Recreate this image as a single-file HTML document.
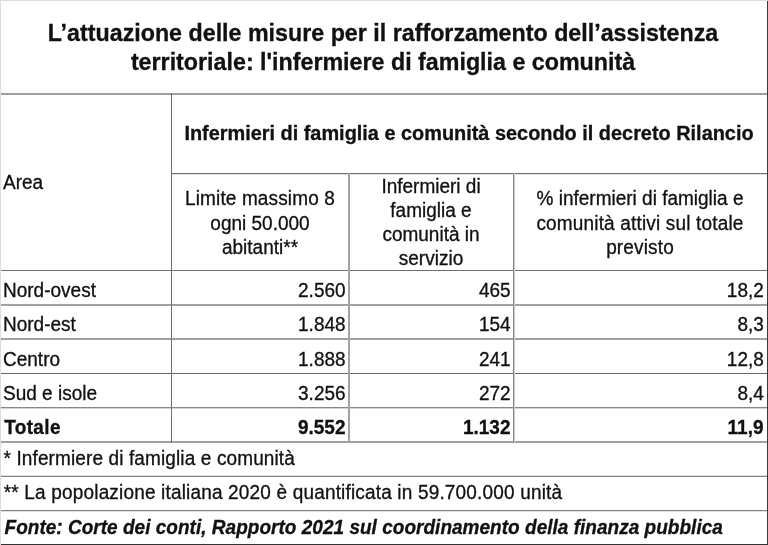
<!DOCTYPE html>
<html><head><meta charset="utf-8">
<style>
html,body{margin:0;padding:0;background:#fff;}
body{width:768px;height:545px;position:relative;overflow:hidden;font-family:"Liberation Sans",sans-serif;color:#111;}
#wrap{position:absolute;left:0;top:0;width:768px;height:545px;filter:grayscale(1);}
.h{position:absolute;height:1px;}
.v{position:absolute;width:1px;}
.t{position:absolute;white-space:nowrap;font-size:19px;line-height:24px;-webkit-text-stroke:0.3px #111;}
</style></head><body><div id="wrap">
<div class="h" style="left:0px;top:0px;width:768px;background:#ddd"></div>
<div class="v" style="left:0px;top:0px;height:545px;background:#ddd"></div>
<div class="v" style="left:767px;top:1px;height:544px;background:#3a3a3a"></div>
<div class="h" style="left:1px;top:544px;width:767px;background:#333"></div>
<div class="h" style="left:1px;top:93px;width:766px;background:#a2a2a2"></div>
<div class="h" style="left:1px;top:94px;width:766px;background:#9c9c9c"></div>
<div class="h" style="left:171px;top:173px;width:596px;background:#6e6e6e"></div>
<div class="h" style="left:171px;top:174px;width:596px;background:#e4e4e4"></div>
<div class="h" style="left:1px;top:270px;width:766px;background:#707070"></div>
<div class="h" style="left:1px;top:304px;width:766px;background:#a2a2a2"></div>
<div class="h" style="left:1px;top:305px;width:766px;background:#a2a2a2"></div>
<div class="h" style="left:1px;top:338px;width:766px;background:#a2a2a2"></div>
<div class="h" style="left:1px;top:339px;width:766px;background:#a2a2a2"></div>
<div class="h" style="left:1px;top:373px;width:766px;background:#666"></div>
<div class="h" style="left:1px;top:407px;width:766px;background:#888"></div>
<div class="h" style="left:1px;top:408px;width:766px;background:#d4d4d4"></div>
<div class="h" style="left:1px;top:441px;width:766px;background:#a2a2a2"></div>
<div class="h" style="left:1px;top:442px;width:766px;background:#a2a2a2"></div>
<div class="h" style="left:1px;top:475px;width:766px;background:#e0e0e0"></div>
<div class="h" style="left:1px;top:476px;width:766px;background:#808080"></div>
<div class="h" style="left:1px;top:510px;width:766px;background:#808080"></div>
<div class="h" style="left:1px;top:511px;width:766px;background:#e4e4e4"></div>
<div class="v" style="left:171px;top:93px;height:350px;background:#707070"></div>
<div class="v" style="left:348px;top:173px;height:270px;background:#a2a2a2"></div>
<div class="v" style="left:349px;top:173px;height:270px;background:#a2a2a2"></div>
<div class="v" style="left:513px;top:173px;height:270px;background:#868686"></div>
<div class="v" style="left:514px;top:173px;height:270px;background:#cccccc"></div>
<div class="t" style="top:19px;line-height:29px;font-size:23.25px;font-weight:bold;left:-1px;width:768px;text-align:center;transform:scaleY(1.05);transform-origin:0 22px">L’attuazione delle misure per il rafforzamento dell’assistenza</div>
<div class="t" style="top:48px;line-height:29px;font-size:23.25px;font-weight:bold;left:-1px;width:768px;text-align:center;transform:scaleY(1.05);transform-origin:0 22px">territoriale: l'infermiere di famiglia e comunità</div>
<div class="t" style="top:121px;line-height:24px;font-size:19.9px;font-weight:bold;left:171px;width:596px;text-align:center;transform:scaleY(1.04);transform-origin:0 19px">Infermieri di famiglia e comunità secondo il decreto Rilancio</div>
<div class="t" style="top:171px;line-height:24px;left:3px;transform:scaleY(1.05);transform-origin:0 18px">Area</div>
<div class="t" style="top:187px;line-height:24px;letter-spacing:0.13px;left:171px;width:178px;text-align:center;transform:scaleY(1.05);transform-origin:0 18px">Limite massimo 8</div>
<div class="t" style="top:212px;line-height:24px;left:171px;width:178px;text-align:center;transform:scaleY(1.05);transform-origin:0 18px">ogni 50.000</div>
<div class="t" style="top:236px;line-height:24px;left:171px;width:178px;text-align:center;transform:scaleY(1.05);transform-origin:0 18px">abitanti**</div>
<div class="t" style="top:175px;line-height:24px;left:349px;width:164px;text-align:center;transform:scaleY(1.05);transform-origin:0 18px">Infermieri di</div>
<div class="t" style="top:199px;line-height:24px;left:349px;width:164px;text-align:center;transform:scaleY(1.05);transform-origin:0 18px">famiglia e</div>
<div class="t" style="top:223px;line-height:24px;left:349px;width:164px;text-align:center;transform:scaleY(1.05);transform-origin:0 18px">comunità in</div>
<div class="t" style="top:247px;line-height:24px;left:349px;width:164px;text-align:center;transform:scaleY(1.05);transform-origin:0 18px">servizio</div>
<div class="t" style="top:187px;line-height:24px;left:513px;width:254px;text-align:center;transform:scaleY(1.05);transform-origin:0 18px">% infermieri di famiglia e</div>
<div class="t" style="top:212px;line-height:24px;letter-spacing:0.17px;left:513px;width:254px;text-align:center;transform:scaleY(1.05);transform-origin:0 18px">comunità attivi sul totale</div>
<div class="t" style="top:236px;line-height:24px;letter-spacing:0.15px;left:513px;width:254px;text-align:center;transform:scaleY(1.05);transform-origin:0 18px">previsto</div>
<div class="t" style="top:279px;line-height:24px;left:3px;transform:scaleY(1.05);transform-origin:0 18px">Nord-ovest</div>
<div class="t" style="top:279px;line-height:24px;left:171px;width:174.60000000000002px;text-align:right;transform:scaleY(1.05);transform-origin:0 18px">2.560</div>
<div class="t" style="top:279px;line-height:24px;left:349px;width:161.7px;text-align:right;transform:scaleY(1.05);transform-origin:0 18px">465</div>
<div class="t" style="top:279px;line-height:24px;left:513px;width:250.79999999999995px;text-align:right;transform:scaleY(1.05);transform-origin:0 18px">18,2</div>
<div class="t" style="top:313px;line-height:24px;left:3px;transform:scaleY(1.05);transform-origin:0 18px">Nord-est</div>
<div class="t" style="top:313px;line-height:24px;left:171px;width:174.60000000000002px;text-align:right;transform:scaleY(1.05);transform-origin:0 18px">1.848</div>
<div class="t" style="top:313px;line-height:24px;left:349px;width:161.7px;text-align:right;transform:scaleY(1.05);transform-origin:0 18px">154</div>
<div class="t" style="top:313px;line-height:24px;left:513px;width:250.79999999999995px;text-align:right;transform:scaleY(1.05);transform-origin:0 18px">8,3</div>
<div class="t" style="top:348px;line-height:24px;left:3px;transform:scaleY(1.05);transform-origin:0 18px">Centro</div>
<div class="t" style="top:348px;line-height:24px;left:171px;width:174.60000000000002px;text-align:right;transform:scaleY(1.05);transform-origin:0 18px">1.888</div>
<div class="t" style="top:348px;line-height:24px;left:349px;width:161.7px;text-align:right;transform:scaleY(1.05);transform-origin:0 18px">241</div>
<div class="t" style="top:348px;line-height:24px;left:513px;width:250.79999999999995px;text-align:right;transform:scaleY(1.05);transform-origin:0 18px">12,8</div>
<div class="t" style="top:382px;line-height:24px;left:3px;transform:scaleY(1.05);transform-origin:0 18px">Sud e isole</div>
<div class="t" style="top:382px;line-height:24px;left:171px;width:174.60000000000002px;text-align:right;transform:scaleY(1.05);transform-origin:0 18px">3.256</div>
<div class="t" style="top:382px;line-height:24px;left:349px;width:161.7px;text-align:right;transform:scaleY(1.05);transform-origin:0 18px">272</div>
<div class="t" style="top:382px;line-height:24px;left:513px;width:250.79999999999995px;text-align:right;transform:scaleY(1.05);transform-origin:0 18px">8,4</div>
<div class="t" style="top:416px;line-height:24px;font-weight:bold;letter-spacing:0.35px;left:4.2px;transform:scaleY(1.05);transform-origin:0 18px">Totale</div>
<div class="t" style="top:416px;line-height:24px;font-weight:bold;left:171px;width:174.5px;text-align:right;transform:scaleY(1.05);transform-origin:0 18px">9.552</div>
<div class="t" style="top:416px;line-height:24px;font-weight:bold;left:349px;width:161.5px;text-align:right;transform:scaleY(1.05);transform-origin:0 18px">1.132</div>
<div class="t" style="top:416px;line-height:24px;font-weight:bold;left:513px;width:250.5px;text-align:right;transform:scaleY(1.05);transform-origin:0 18px">11,9</div>
<div class="t" style="top:447px;line-height:24px;letter-spacing:0.12px;left:3.5px;transform:scaleY(1.05);transform-origin:0 18px">* Infermiere di famiglia e comunità</div>
<div class="t" style="top:481px;line-height:24px;letter-spacing:0.17px;left:3.8px;transform:scaleY(1.05);transform-origin:0 18px">** La popolazione italiana 2020 è quantificata in 59.700.000 unità</div>
<div class="t" style="top:516px;line-height:24px;font-weight:bold;font-style:italic;letter-spacing:0.02px;left:4.5px;transform:scaleY(1.05);transform-origin:0 18px">Fonte: Corte dei conti, Rapporto 2021 sul coordinamento della finanza pubblica</div>
</div></body></html>
